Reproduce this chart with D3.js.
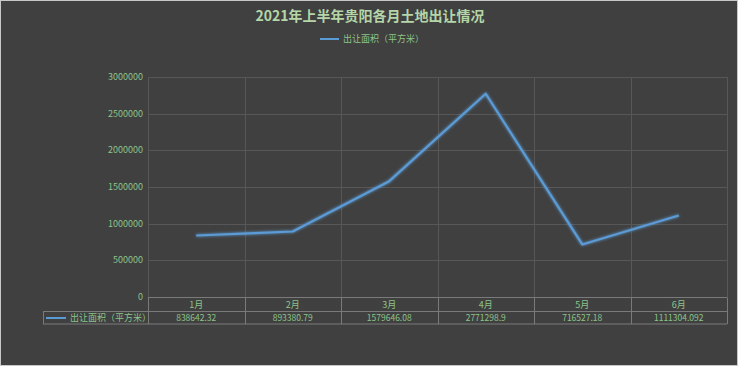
<!DOCTYPE html>
<html>
<head>
<meta charset="utf-8">
<script src="https://cdn.jsdelivr.net/npm/d3@7"></script>
<style>
  body { margin: 0; background: #ffffff; }
  svg { display: block; font-family: "Noto Sans CJK SC", "DejaVu Sans", sans-serif; }
</style>
</head>
<body>
<div id="chart"></div>
<script>
const months = ["1月", "2月", "3月", "4月", "5月", "6月"];
const areaValues = [838642.32, 893380.79, 1579646.08, 2771298.9, 716527.18, 1111304.092];
const areaLabels = ["838642.32", "893380.79", "1579646.08", "2771298.9", "716527.18", "1111304.092"];
const yTicks = [0, 500000, 1000000, 1500000, 2000000, 2500000, 3000000];
const seriesName = "出让面积（平方米）";
const title = "2021年上半年贵阳各月土地出让情况";

const ctx = {
    w: 740, h: 367,
    plot: {left: 148, right: 727, top: 77, bottom: 297},
    legendCellX: 43,
    bg: "#404040",
    grid: "#575757",
    text: "#8cc48a",
    titleColor: "#b4d6a8",
    line: "#5b9bd5",
    border: "#7a7a7a"
};

let svg = d3.select("#chart").append("svg")
    .attr("width", ctx.w)
    .attr("height", ctx.h);

let defs = svg.append("defs");
let glow = defs.append("filter").attr("id", "glow")
    .attr("x", "-10%").attr("y", "-10%").attr("width", "120%").attr("height", "120%");
glow.append("feGaussianBlur").attr("stdDeviation", 1.6).attr("result", "b");
let merge = glow.append("feMerge");
merge.append("feMergeNode").attr("in", "b");
merge.append("feMergeNode").attr("in", "SourceGraphic");

// background + outer frame
svg.append("rect")
    .attr("x", 0.5).attr("y", 0.5)
    .attr("width", 737).attr("height", 365)
    .attr("fill", ctx.bg)
    .attr("stroke", "#c8c8c8");

let x = d3.scaleBand()
    .domain(months)
    .range([ctx.plot.left, ctx.plot.right]);

let y = d3.scaleLinear()
    .domain([0, 3000000])
    .range([ctx.plot.bottom, ctx.plot.top]);

// horizontal gridlines
svg.append("g")
    .selectAll("line")
    .data(yTicks.slice(1))
    .enter()
    .append("line")
    .attr("x1", ctx.plot.left).attr("x2", ctx.plot.right)
    .attr("y1", d => Math.round(y(d)) + 0.5)
    .attr("y2", d => Math.round(y(d)) + 0.5)
    .attr("stroke", ctx.grid)
    .attr("stroke-width", 1);

// vertical gridlines
let edges = months.map(m => x(m)).concat([ctx.plot.right]);
svg.append("g")
    .selectAll("line")
    .data(edges)
    .enter()
    .append("line")
    .attr("x1", d => Math.round(d) + 0.5).attr("x2", d => Math.round(d) + 0.5)
    .attr("y1", ctx.plot.top).attr("y2", ctx.plot.bottom)
    .attr("stroke", ctx.grid);

// y axis labels
svg.append("g")
    .selectAll("text")
    .data(yTicks)
    .enter()
    .append("text")
    .attr("x", ctx.plot.left - 5)
    .attr("y", d => y(d) + 3)
    .attr("text-anchor", "end")
    .attr("fill", ctx.text)
    .style("font-size", "9px")
    .text(d => d);

// line
let lineGen = d3.line()
    .x((d, i) => x(months[i]) + x.bandwidth() / 2)
    .y(d => y(d));
svg.append("path")
    .datum(areaValues)
    .attr("d", lineGen)
    .attr("fill", "none")
    .attr("stroke", ctx.line)
    .attr("stroke-width", 2.2)
    .attr("stroke-linejoin", "round")
    .attr("filter", "url(#glow)");

// data table
let tTop = ctx.plot.bottom + 0.5;
let tMid = tTop + 14;
let tBot = tMid + 12.5;
let tbl = svg.append("g").attr("stroke", ctx.border).attr("fill", "none");
tbl.append("line").attr("x1", ctx.plot.left).attr("x2", ctx.plot.right).attr("y1", tTop).attr("y2", tTop);
tbl.append("line").attr("x1", ctx.legendCellX).attr("x2", ctx.plot.right).attr("y1", tMid).attr("y2", tMid);
tbl.append("line").attr("x1", ctx.legendCellX).attr("x2", ctx.plot.right).attr("y1", tBot).attr("y2", tBot);
tbl.append("line").attr("x1", ctx.legendCellX + 0.5).attr("x2", ctx.legendCellX + 0.5).attr("y1", tMid).attr("y2", tBot);
tbl.selectAll(".v")
    .data(edges)
    .enter()
    .append("line")
    .attr("x1", d => Math.round(d) + 0.5).attr("x2", d => Math.round(d) + 0.5)
    .attr("y1", tTop).attr("y2", tBot);

svg.append("g")
    .selectAll("text")
    .data(months)
    .enter()
    .append("text")
    .attr("x", d => x(d) + x.bandwidth() / 2)
    .attr("y", tTop + 10.5)
    .attr("text-anchor", "middle")
    .attr("fill", ctx.text)
    .style("font-size", "9px")
    .text(d => d);

svg.append("g")
    .selectAll("text")
    .data(areaLabels)
    .enter()
    .append("text")
    .attr("x", (d, i) => x(months[i]) + x.bandwidth() / 2)
    .attr("y", tMid + 9.5)
    .attr("text-anchor", "middle")
    .attr("fill", ctx.text)
    .style("font-size", "8.5px")
    .text(d => d);

// table legend cell
svg.append("line")
    .attr("x1", 46).attr("x2", 66)
    .attr("y1", tMid + 6.5).attr("y2", tMid + 6.5)
    .attr("stroke", ctx.line).attr("stroke-width", 2);
svg.append("text")
    .attr("x", 70).attr("y", tMid + 9.5)
    .attr("fill", ctx.text)
    .style("font-size", "9px")
    .text(seriesName);

// title
svg.append("text")
    .attr("x", 370).attr("y", 21)
    .attr("text-anchor", "middle")
    .attr("fill", ctx.titleColor)
    .style("font-size", "14px")
    .style("font-weight", "bold")
    .text(title);

// legend
svg.append("line")
    .attr("x1", 320).attr("x2", 339)
    .attr("y1", 39).attr("y2", 39)
    .attr("stroke", ctx.line).attr("stroke-width", 2);
svg.append("text")
    .attr("x", 343).attr("y", 42)
    .attr("fill", ctx.text)
    .style("font-size", "9px")
    .text(seriesName);
</script>
</body>
</html>
